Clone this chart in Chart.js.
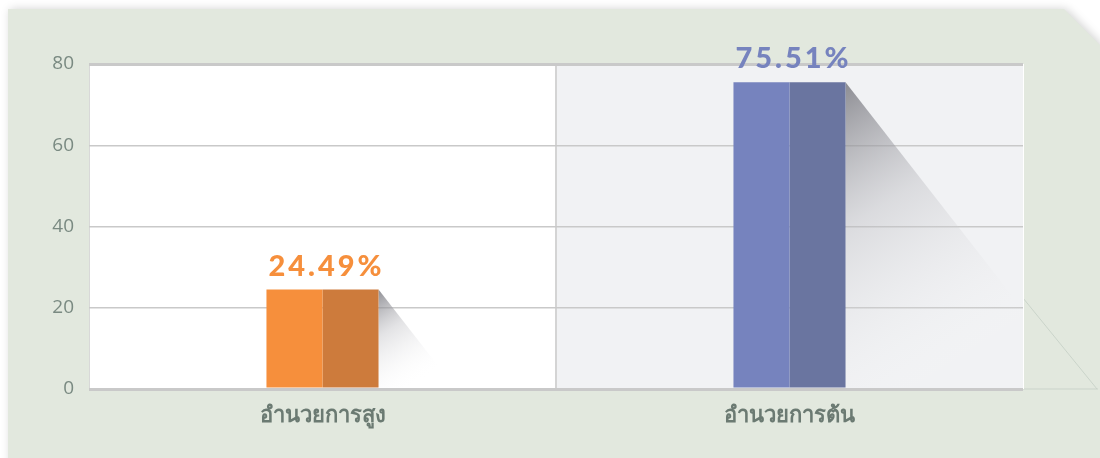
<!DOCTYPE html>
<html>
<head>
<meta charset="utf-8">
<script src="https://cdn.jsdelivr.net/npm/chart.js@4"></script>
<style>
html,body{margin:0;padding:0;background:#ffffff;}
#wrap{width:1100px;height:458px;position:relative;}
</style>
</head>
<body>
<div id="wrap"><canvas id="c" width="1100" height="458"></canvas></div>
<script>
const categories = ['อำนวยการสูง', 'อำนวยการต้น'];
const values = [24.49, 75.51];
const valueLabels = ['24.49%', '75.51%'];
const yTicks = [0, 20, 40, 60, 80];
const frontColors = ['#f68f3c', '#7683be'];
const sideColors = ['#cd7b3c', '#6a75a0'];
const labelColors = ['#f68f3c', '#7683be'];

const bgPlugin = {
  id: 'bg',
  beforeDraw(chart) {
    const ctx = chart.ctx, a = chart.chartArea, x = chart.scales.x;
    ctx.save();
    ctx.shadowColor = 'rgba(0,0,0,0.18)';
    ctx.shadowBlur = 10;
    ctx.shadowOffsetX = 2;
    ctx.fillStyle = '#e2e8de';
    ctx.beginPath();
    ctx.moveTo(8, 9);
    ctx.lineTo(1064, 9);
    ctx.lineTo(1100, 45);
    ctx.lineTo(1100, 470);
    ctx.lineTo(8, 470);
    ctx.closePath();
    ctx.fill();
    ctx.shadowColor = 'transparent';
    ctx.strokeStyle = 'rgba(200,210,200,0.9)';
    ctx.lineWidth = 1;
    ctx.beginPath();
    ctx.moveTo(a.right, a.bottom);
    ctx.lineTo(1098, a.bottom);
    ctx.moveTo(a.right, 298);
    ctx.lineTo(1097, a.bottom);
    ctx.stroke();
    const half = (x.getPixelForValue(1) - x.getPixelForValue(0)) / 2;
    ctx.fillStyle = '#ffffff';
    ctx.fillRect(a.left, a.top, half * 2, a.bottom - a.top);
    ctx.fillStyle = '#f1f2f4';
    ctx.fillRect(x.getPixelForValue(1) - half, a.top, half * 2, a.bottom - a.top);
    ctx.restore();
  }
};

const shadowPlugin = {
  id: 'barShadow',
  beforeDatasetsDraw(chart) {
    const ctx = chart.ctx, a = chart.chartArea;
    const meta = chart.getDatasetMeta(1);
    ctx.save();
    ctx.beginPath();
    ctx.rect(a.left, a.top, a.right - a.left, a.bottom - a.top);
    ctx.clip();
    meta.data.forEach((bar) => {
      const x0 = bar.x + bar.width / 2;
      const y0 = bar.y;
      const h = bar.base - bar.y;
      const x1 = x0 + h * 0.78;
      const g = ctx.createLinearGradient(x0, y0, x0 + h * 0.55, y0 + h * 0.85);
      g.addColorStop(0, 'rgba(115,115,122,0.8)');
      g.addColorStop(0.4, 'rgba(185,185,190,0.4)');
      g.addColorStop(1, 'rgba(255,255,255,0)');
      ctx.fillStyle = g;
      ctx.beginPath();
      ctx.moveTo(x0, y0);
      ctx.lineTo(x1, bar.base);
      ctx.lineTo(x0, bar.base);
      ctx.closePath();
      ctx.fill();
    });
    ctx.restore();
  }
};

const labelPlugin = {
  id: 'valLabels',
  afterDatasetsDraw(chart) {
    const ctx = chart.ctx;
    const m0 = chart.getDatasetMeta(0), m1 = chart.getDatasetMeta(1);
    ctx.save();
    ctx.font = '900 29px Lato, "DejaVu Sans", sans-serif';
    try { ctx.letterSpacing = '3px'; } catch (e) {}
    ctx.textAlign = 'center';
    ctx.textBaseline = 'alphabetic';
    m0.data.forEach((b0, i) => {
      const b1 = m1.data[i];
      const cx = (b0.x - b0.width / 2 + b1.x + b1.width / 2) / 2 + 4;
      ctx.fillStyle = labelColors[i];
      ctx.fillText(valueLabels[i], cx, b0.y - 14);
    });
    ctx.restore();
  }
};

new Chart(document.getElementById('c'), {
  type: 'bar',
  data: {
    labels: categories,
    datasets: [
      { data: values, backgroundColor: frontColors, borderWidth: 0, categoryPercentage: 0.24, barPercentage: 1.0 },
      { data: values, backgroundColor: sideColors, borderWidth: 0, categoryPercentage: 0.24, barPercentage: 1.0 }
    ]
  },
  options: {
    responsive: false,
    animation: false,
    devicePixelRatio: 1,
    layout: { padding: { left: 0, right: 77, top: 64, bottom: 0 } },
    plugins: { legend: { display: false }, tooltip: { enabled: false } },
    scales: {
      x: {
        afterFit(s) { s.height = 69; },
        border: { display: false },
        grid: {
          display: true,
          drawTicks: false,
          color: (c) => (c.index === 1 ? '#d4d4d4' : (c.index === 0 ? '#d8d8d8' : '#ffffff')),
          lineWidth: (c) => (c.index === 1 ? 2 : 1)
        },
        ticks: {
          padding: 14,
          color: '#6b7a72',
          font: { family: 'Tahoma, "Noto Sans", "DejaVu Sans", sans-serif', size: 22, weight: 'bold' }
        }
      },
      y: {
        min: 0,
        max: 80,
        afterFit(s) { s.width = 89; },
        afterBuildTicks(s) { s.ticks = yTicks.map(v => ({ value: v })); },
        border: { display: false },
        grid: {
          drawTicks: false,
          color: '#c9c9c9',
          lineWidth: (c) => (c.tick && (c.tick.value === 0 || c.tick.value === 80) ? 3 : 1.5)
        },
        ticks: {
          padding: 15,
          color: '#7a8a82',
          font: { family: '"Open Sans", Lato, sans-serif', size: 19, weight: 'normal' }
        }
      }
    }
  },
  plugins: [bgPlugin, shadowPlugin, labelPlugin]
});
</script>
</body>
</html>
